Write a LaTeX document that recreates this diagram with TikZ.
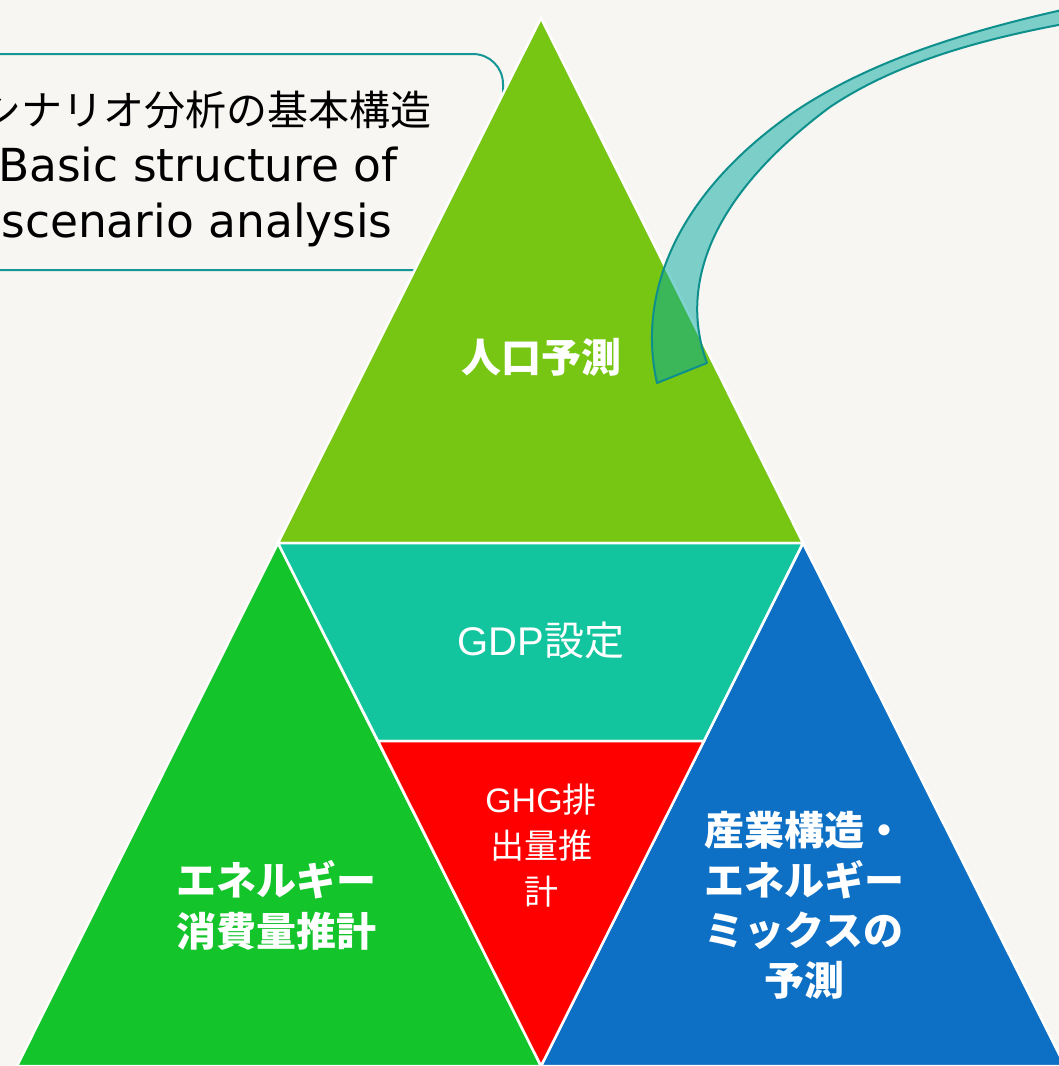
\documentclass[tikz,border=0pt]{standalone}
\usepackage{fontspec}
\setmainfont{DejaVu Sans}
\newfontfamily\jp{Noto Sans CJK JP}
\newfontfamily\arialf{Liberation Sans}
\definecolor{bgpaper}{RGB}{248,246,242}
\definecolor{topgreen}{RGB}{120,198,20}
\definecolor{gdpteal}{RGB}{18,197,158}
\definecolor{ghgred}{RGB}{255,0,0}
\definecolor{leftgreen}{RGB}{19,196,43}
\definecolor{rightblue}{RGB}{14,112,196}
\definecolor{boxline}{RGB}{22,150,150}
\definecolor{arrowline}{RGB}{14,143,140}
\definecolor{arrowfill}{RGB}{0,170,160}
\begin{document}
\begin{tikzpicture}[x=1pt,y=-1pt,
  piece/.style={draw=white,line width=2.5pt,line join=miter},
  lbl/.style={text=white,align=center,inner sep=0pt},
  ttl/.style={text=black,inner sep=0pt,anchor=base},
]
\useasboundingbox (0,0) rectangle (1059,1066);
\clip (0,0) rectangle (1059,1066);
\fill[bgpaper] (0,0) rectangle (1059,1066);

% title box
\draw[boxline,line width=2pt,rounded corners=30pt] (-40,54) -- (503,54) -- (503,270) -- (-40,270);
\node[ttl,font=\jp\fontsize{41}{50}\selectfont] (t1) at (206,125) {シナリオ分析の基本構造};
\node[ttl,font=\fontsize{45.5}{50}\selectfont] (t2) at (198,181) {Basic structure of};
\node[ttl,font=\fontsize{45.5}{50}\selectfont] (t3) at (197,237) {scenario analysis};

% pyramid pieces
\coordinate (A) at (541,18);
\coordinate (L) at (278,543);
\coordinate (R) at (803,543);
\coordinate (ML) at (378,741);
\coordinate (MR) at (704,741);
\coordinate (B) at (541,1066);
\coordinate (BL) at (17,1066);
\coordinate (BR) at (1065,1066);

\filldraw[piece,fill=topgreen] (A) -- (R) -- (L) -- cycle;
\filldraw[piece,fill=leftgreen] (L) -- (B) -- (BL) -- cycle;
\filldraw[piece,fill=rightblue] (R) -- (BR) -- (B) -- cycle;
\filldraw[piece,fill=gdpteal] (L) -- (R) -- (MR) -- (ML) -- cycle;
\filldraw[piece,fill=ghgred] (ML) -- (MR) -- (B) -- cycle;

% curved band
\filldraw[draw=arrowline,line width=2pt,fill=arrowfill,fill opacity=0.5,line join=round]
  (657,383) .. controls (636,290) and (680,190) .. (797,110)
  .. controls (870,62) and (960,32) .. (1080,6)
  -- (1080,21)
  .. controls (990,37) and (900,60) .. (830,107)
  .. controls (705,200) and (680,290) .. (707,363)
  -- cycle;

% labels
\node[lbl,font=\jp\bfseries\fontsize{40}{50}\selectfont] (pop) at (541,357) {人口予測};
\node[lbl,font=\fontsize{40}{50}\selectfont] (gdp) at (541,640) {{\arialf GDP}{\jp 設定}};
\node[lbl,font=\fontsize{34}{46}\selectfont] (ghg) at (541,846) {{\arialf GHG}{\jp 排}\\{\jp 出量推}\\{\jp 計}};
\node[lbl,font=\jp\bfseries\fontsize{40}{51}\selectfont] (ene) at (276,905) {エネルギー\\消費量推計};
\node[lbl,font=\jp\bfseries\fontsize{40}{50}\selectfont] (ind) at (804,905) {産業構造・\\エネルギー\\ミックスの\\予測};
\end{tikzpicture}
\end{document}
